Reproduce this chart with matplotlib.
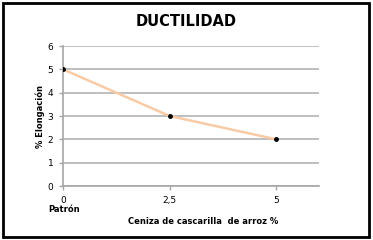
import matplotlib.pyplot as plt
from matplotlib.patches import Rectangle

ceniza = [0, 2.5, 5]
elongacion = [5, 3, 2]
x_ticks = [0, 2.5, 5]
x_labels = ["0", "2,5", "5"]
y_ticks = [0, 1, 2, 3, 4, 5, 6]

fig = plt.figure(figsize=(3.73, 2.40), dpi=100)
ax = fig.add_axes([63 / 373, 54 / 240, 256 / 373, 140 / 240])

ax.plot(ceniza, elongacion, color="#F8CBA6", linewidth=1.8, zorder=2)
ax.plot(ceniza, elongacion, "o", color="black", markersize=2.5, zorder=3)

ax.set_xlim(0, 6)
ax.set_ylim(0, 6)
ax.set_xticks(x_ticks)
ax.set_xticklabels(x_labels)
ax.set_yticks(y_ticks)
ax.grid(axis="y", color="#BFBFBF", linewidth=1.4)
ax.set_axisbelow(True)
for s in ["top", "right"]:
    ax.spines[s].set_visible(False)
for s in ["left", "bottom"]:
    ax.spines[s].set_color("#A6A6A6")
    ax.spines[s].set_linewidth(1.2)
ax.tick_params(axis="both", colors="#A6A6A6", length=3, width=1,
               labelsize=6.5, labelcolor="black", pad=4)

fig.text(186 / 373, 1 - 21 / 240, "DUCTILIDAD", ha="center", va="center",
         fontsize=10.5, fontweight="bold")
fig.text(40 / 373, 1 - 116 / 240, "% Elongación", ha="center", va="center",
         rotation=90, fontsize=6, fontweight="bold")
fig.text(64 / 373, 1 - 210 / 240, "Patrón", ha="center", va="center",
         fontsize=6, fontweight="bold")
fig.text(203 / 373, 1 - 222 / 240, "Ceniza de cascarilla  de arroz %",
         ha="center", va="center", fontsize=6, fontweight="bold")

fig.patches.append(Rectangle((3 / 373, 3 / 240), 366 / 373, 234 / 240,
                             transform=fig.transFigure, fill=False,
                             edgecolor="black", linewidth=2))

fig.savefig("out.png", dpi=100)
